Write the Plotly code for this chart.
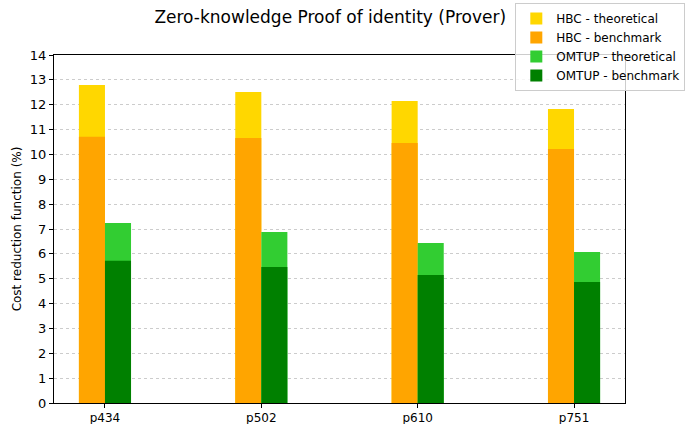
import plotly.graph_objects as go

# dados
categorias = ['p434', 'p502', 'p610', 'p751']
hbc_teorico = [12.79, 12.51, 12.15, 11.83]
hbc_benchmark = [10.71, 10.66, 10.46, 10.22]
omtup_teorico = [7.24, 6.88, 6.44, 6.07]
omtup_benchmark = [5.72, 5.47, 5.15, 4.87]

largura = 1 / 6
pos = list(range(len(categorias)))
x_hbc = [p - largura / 2 for p in pos]
x_omtup = [p + largura / 2 for p in pos]

fig = go.Figure()
series = [
    ('HBC - theoretical', x_hbc, hbc_teorico, '#FFD700'),
    ('HBC - benchmark', x_hbc, hbc_benchmark, '#FFA500'),
    ('OMTUP - theoretical', x_omtup, omtup_teorico, '#32CD32'),
    ('OMTUP - benchmark', x_omtup, omtup_benchmark, '#008000'),
]
for nome, xs, ys, cor in series:
    fig.add_trace(go.Bar(x=xs, y=ys, width=largura, name=nome,
                         marker=dict(color=cor, line=dict(width=0))))

fig.update_layout(
    width=688, height=424,
    barmode='overlay',
    plot_bgcolor='white', paper_bgcolor='white',
    font=dict(family='DejaVu Sans', size=12, color='black'),
    margin=dict(l=54, r=63, t=55, b=21, autoexpand=False),
    title=dict(text='Zero-knowledge Proof of identity (Prover)', x=0.48, xanchor='center',
               y=0.96, yanchor='middle', font=dict(size=17)),
    legend=dict(xref='container', yref='container', x=0.749, y=0.993,
                xanchor='left', yanchor='top',
                bgcolor='rgba(255,255,255,0.8)', bordercolor='#cccccc', borderwidth=1,
                font=dict(size=12), tracegroupgap=0, itemwidth=30),
    showlegend=True,
)
fig.update_xaxes(
    range=[-0.326, 3.326], tickvals=pos, ticktext=categorias,
    showline=True, linecolor='black', linewidth=1, mirror=True,
    ticks='outside', ticklen=4, tickcolor='black', showgrid=False, zeroline=False,
    tickfont=dict(size=12),
)
fig.update_yaxes(
    range=[0, 14], dtick=1, title=dict(text='Cost reduction function (%)', font=dict(size=12), standoff=5),
    showline=True, linecolor='black', linewidth=1, mirror=True,
    ticks='outside', ticklen=4, tickcolor='black',
    showgrid=True, gridcolor='#cccccc', griddash='dot', gridwidth=1, zeroline=False,
    tickfont=dict(size=13),
)

# tira a margem padrão do body para a figura começar no canto
fig.write_html('out.html', config={'displayModeBar': False},
               post_script="document.body.style.margin='0';")
